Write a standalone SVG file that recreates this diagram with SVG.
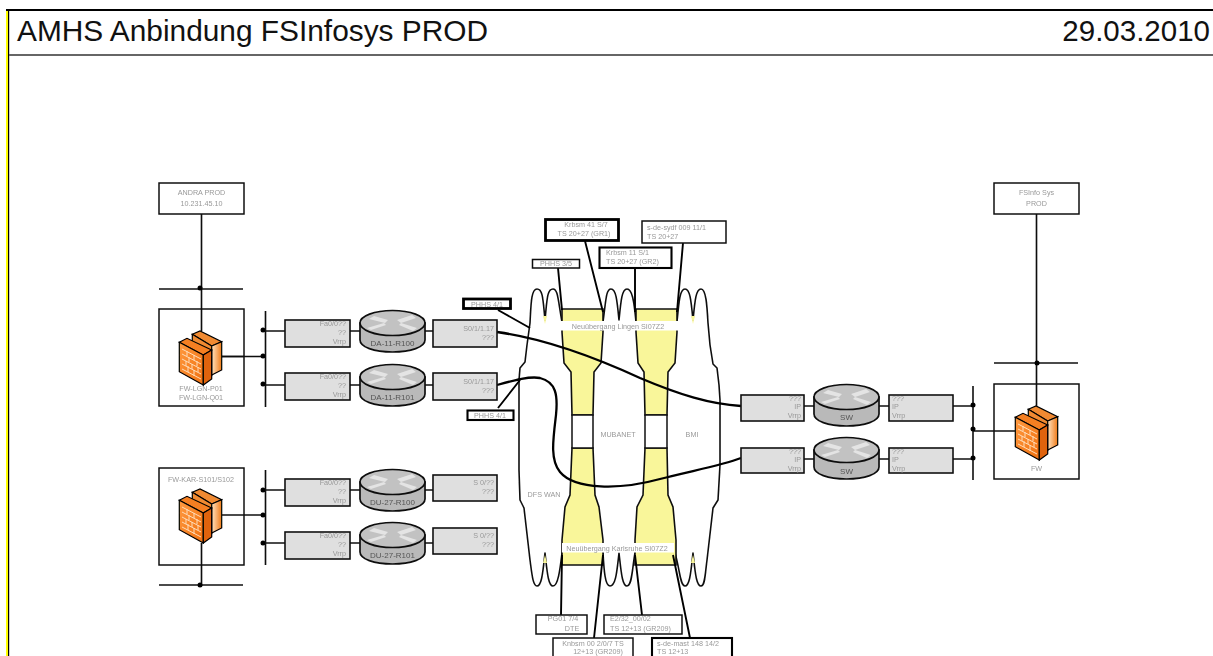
<svg xmlns="http://www.w3.org/2000/svg" xmlns:xlink="http://www.w3.org/1999/xlink" width="1213" height="656" viewBox="0 0 1213 656">
<style>
text{font-family:"Liberation Sans",Arial,sans-serif}
.t{font-size:7.2px;fill:#999}
.d{font-size:8px;fill:#555}
.m{text-anchor:middle}
.e{text-anchor:end}
.box{fill:#fff;stroke:#111;stroke-width:1.500}
.open{fill:none;stroke:#111;stroke-width:1.500}
.thick{fill:#fff;stroke:#000;stroke-width:2.800}
.mid{fill:#fff;stroke:#000;stroke-width:2.100}
.if{fill:#dfdfdf;stroke:#111;stroke-width:1.600}
.ln{fill:none;stroke:#111;stroke-width:1.600}
.call{fill:none;stroke:#000;stroke-width:1.900}
.cur{fill:none;stroke:#000;stroke-width:2.300}
.cl{fill:#fff;stroke:#111;stroke-width:1.600;stroke-linejoin:round}
.y{fill:#f9f69a;stroke:#111;stroke-width:1.600}
.band{fill:#fff;stroke:none}
</style>
<defs>
<filter id="soft" x="-2%" y="-2%" width="104%" height="104%"><feGaussianBlur stdDeviation="0.45"/></filter>
<linearGradient id="og" x1="0" y1="0" x2="1" y2="1"><stop offset="0" stop-color="#ff9a40"/><stop offset="1" stop-color="#f07010"/></linearGradient>
<linearGradient id="og2" x1="0" y1="0" x2="1" y2="0"><stop offset="0" stop-color="#ffe3c0"/><stop offset="1" stop-color="#f07a18"/></linearGradient>
<g id="router">
<path d="M0 13V30C0 37 14 42 32.500 42S65 37 65 30V13Z" fill="#b9b9b9" stroke="#111" stroke-width="1.700"/>
<ellipse cx="32.500" cy="13" rx="32.500" ry="12.500" fill="#c2c2c2" stroke="#111" stroke-width="1.700"/>
<path d="M14 6L28 10L25 13L9 9ZM37 10L52 5L56 8L41 13ZM26 15L11 20L7 18L24 13ZM39 15L53 21L57 18L41 13Z" fill="#e4e4e4"/>
</g>
<g id="fw">
<path d="M13.300 3.300L21 0L42.700 10.700L32.700 15Z" fill="#f08a30" stroke="#000" stroke-width="1.200"/>
<path d="M13.300 3.300L32.700 15V44L13.300 30Z" fill="#f08a30" stroke="#000" stroke-width="1.200"/>
<path d="M32.700 15L42.700 10.700V39L32.700 44Z" fill="url(#og2)" stroke="#000" stroke-width="1.200"/>
<path d="M0.300 11.300L8 7.300L32.700 19L24.300 24Z" fill="#f57f20" stroke="#000" stroke-width="1.200"/>
<path d="M0.300 11.300L24.300 24V54L0.300 40.700Z" fill="url(#og)" stroke="#000" stroke-width="1.200"/>
<path d="M24.300 24L32.700 19V48L24.300 54Z" fill="#e0640c" stroke="#000" stroke-width="1.200"/>
<path d="M3 18L22 28M3 23L22 33M3 28L22 38M3 33L22 43M3 38L22 48M8 20V25M15 24V29M10 26V31M18 30V35M7 30V35M13 33V38M19 36V41M9 35V41M15 39V45" fill="none" stroke="#ffdcb8" stroke-width="1"/>
</g>
<circle id="dot" r="2.500" fill="#000"/>
</defs>

<g id="frame">
<rect x="6" y="10" width="2" height="646" fill="#ffff00"/>
<rect x="8" y="10" width="1.200" height="646" fill="#000"/>
<rect x="6" y="9" width="1207" height="2" fill="#000"/>
<rect x="9" y="54" width="1204" height="2" fill="#666"/>
<text x="17" y="41" font-size="29.500" fill="#111" textLength="471" lengthAdjust="spacingAndGlyphs">AMHS Anbindung FSInfosys PROD</text>
<text x="1210" y="41" font-size="29.500" fill="#111" class="e">29.03.2010</text>
</g>

<g filter="url(#soft)">
<g id="clouds">
<path id="cloud-dfs" class="cl" d="M562 322C558 300 558 289 553 289C547 289 547 300 545 320C543 300 543 289 537 289C531 289 531 305 530 323L527 345L525 362L520 368L519 380V470L520 500L524 508L530 560C532 575 533 586 537 586C542 586 543 570 545 553C547 570 548 586 553 586C558 586 560 570 562 553L580 553V322Z"/>
<path id="cloud-mubanet" class="cl" d="M580 322H603C606 300 606 289 611 289C616 289 617 300 619 320C621 300 622 289 627 289C632 289 634 300 636 322H660V553H635C632 570 632 586 627 586C622 586 621 570 619 553C617 570 616 586 610 586C605 586 604 570 603 553H580Z"/>
<path id="cloud-bmi" class="cl" d="M660 322H677C679 300 680 289 685 289C690 289 691 300 693 320C695 300 696 289 701 289C706 289 707 305 708 323L710 345L713 364L717 368L719 385L720 400V465L718 500L713 508L707 560C705 575 705 586 701 586C696 586 695 570 693 553C691 570 690 586 685 586C680 586 680 570 675 553H660Z"/>
<path d="M543 316L547 316L545 324ZM691 316L695 316L693 324ZM543 563L547 563L545 555ZM691 563L695 563L693 555Z" fill="#f9f69a" stroke="none"/>
</g>
<g id="links-yellow">
<path class="y" d="M562 309H603V332L601 363L594 372L593 415H572L571 372L564 363L562 332Z"/>
<path class="y" d="M636 309H677V332L675 363L668 372L667 415H645L644 372L638 363L636 332Z"/>
<path class="y" d="M572 448H593L595 495L599 507L603 540V565H562V540L565 507L570 495Z"/>
<path class="y" d="M645 448H667L668 495L673 507L676 540V565H635V540L637 507L643 495Z"/>
<rect class="box" x="572" y="415" width="21" height="33"/>
<rect class="box" x="645" y="415" width="22" height="33"/>
<rect class="band" x="560" y="321" width="118" height="9.500"/>
<rect class="band" x="562" y="543" width="112" height="9.500"/>
</g>

<g id="connectors">
<path class="ln" d="M201.500 214V331M159 289H243M265.500 311V407M222 356.500H265M265 331H285M265 385H285M350 331H360M425 331H433M350 385H360M425 385H433"/>
<path class="ln" d="M201.500 543V585M159 585H243M265.500 470V565M222 515H265M265 490H285M265 543H285M350 490H360M425 490H433M350 543H360M425 543H433"/>
<path class="ln" d="M1036.500 214V406M994 363H1078M973 386V480M1015 431H973M953 406H973M953 459H973M804 406H814M878 406H889M804 459H814M878 459H889"/>
<path class="cur" d="M497 332C540 338 590 355 640 378C680 395 710 404 741 406"/>
<path class="cur" d="M497 385C515 380 530 376 540 378C556 382 558 395 556 415C553 440 550 460 560 472C575 490 620 490 660 479C690 471 720 466 741 458"/>
<path class="call" d="M498 310L530 328M498 408L520 380M558 268L562 310M585 241L603 312M635 268V312M683 243L677 312M562 555L561 615M635 555L642 615M603 555L594 638M673 555L690 638"/>
<use xlink:href="#dot" x="200" y="288"/><use xlink:href="#dot" x="263" y="330"/><use xlink:href="#dot" x="263" y="356"/><use xlink:href="#dot" x="263" y="384"/>
<use xlink:href="#dot" x="200" y="585"/><use xlink:href="#dot" x="263" y="490"/><use xlink:href="#dot" x="263" y="515"/><use xlink:href="#dot" x="263" y="543"/>
<use xlink:href="#dot" x="1037" y="363"/><use xlink:href="#dot" x="973" y="405"/><use xlink:href="#dot" x="973" y="429"/><use xlink:href="#dot" x="973" y="458"/>
</g>

<g id="andra"><rect class="box" x="159" y="183" width="85" height="31"/><text class="t m" x="201.500" y="195">ANDRA PROD</text><text class="t m" x="201.500" y="206">10.231.45.10</text></g>
<g id="fsinfo"><rect class="box" x="994" y="183" width="85" height="31"/><text class="t m" x="1036.500" y="195">FSInfo Sys</text><text class="t m" x="1036.500" y="206">PROD</text></g>

<g id="fw-lgn"><rect class="open" x="159" y="309" width="85" height="97"/><use xlink:href="#fw" x="179" y="331"/><path class="ln" d="M222 356.500H244"/><text class="t m" x="201" y="391">FW-LGN-P01</text><text class="t m" x="201" y="400">FW-LGN-Q01</text></g>
<g id="fw-kar"><rect class="open" x="159" y="468" width="85" height="97"/><use xlink:href="#fw" x="179" y="489"/><text class="t m" x="201" y="482">FW-KAR-S101/S102</text></g>
<g id="fw-r"><rect class="open" x="994" y="384" width="85" height="95"/><use xlink:href="#fw" x="1015" y="406"/><text class="t m" x="1036.500" y="471">FW</text></g>

<g id="r1"><use xlink:href="#router" x="360" y="310"/><text class="d m" x="392.500" y="346">DA-11-R100</text></g>
<g id="r2"><use xlink:href="#router" x="360" y="364"/><text class="d m" x="392.500" y="400">DA-11-R101</text></g>
<g id="r3"><use xlink:href="#router" x="360" y="469"/><text class="d m" x="392.500" y="505">DU-27-R100</text></g>
<g id="r4"><use xlink:href="#router" x="360" y="522"/><text class="d m" x="392.500" y="558">DU-27-R101</text></g>
<g id="r5"><use xlink:href="#router" x="814" y="384"/><text class="d m" x="846.500" y="420">SW</text></g>
<g id="r6"><use xlink:href="#router" x="814" y="437"/><text class="d m" x="846.500" y="474">SW</text></g>

<g id="if1"><rect class="if" x="285" y="320" width="65" height="27"/><text class="t e" x="346" y="326">Fa0/0??</text><text class="t e" x="346" y="335">??</text><text class="t e" x="346" y="344">Vrrp</text></g>
<g id="if2"><rect class="if" x="285" y="373" width="65" height="27"/><text class="t e" x="346" y="379">Fa0/0??</text><text class="t e" x="346" y="388">??</text><text class="t e" x="346" y="397">Vrrp</text></g>
<g id="if3"><rect class="if" x="285" y="479" width="65" height="27"/><text class="t e" x="346" y="485">Fa0/0??</text><text class="t e" x="346" y="494">??</text><text class="t e" x="346" y="503">Vrrp</text></g>
<g id="if4"><rect class="if" x="285" y="532" width="65" height="27"/><text class="t e" x="346" y="538">Fa0/0??</text><text class="t e" x="346" y="547">??</text><text class="t e" x="346" y="556">Vrrp</text></g>
<g id="if5"><rect class="if" x="433" y="320" width="64" height="27"/><text class="t e" x="494" y="331">S0/1/1.17</text><text class="t e" x="494" y="340">???</text></g>
<g id="if6"><rect class="if" x="433" y="373" width="64" height="27"/><text class="t e" x="494" y="384">S0/1/1.17</text><text class="t e" x="494" y="393">???</text></g>
<g id="if7"><rect class="if" x="433" y="475" width="64" height="26"/><text class="t e" x="494" y="485">S 0/??</text><text class="t e" x="494" y="494">???</text></g>
<g id="if8"><rect class="if" x="433" y="528" width="64" height="26"/><text class="t e" x="494" y="538">S 0/??</text><text class="t e" x="494" y="547">???</text></g>
<g id="if9"><rect class="if" x="741" y="395" width="63" height="26"/><text class="t e" x="801" y="401">???</text><text class="t e" x="801" y="409">IP</text><text class="t e" x="801" y="418">Vrrp</text></g>
<g id="if10"><rect class="if" x="741" y="448" width="63" height="25"/><text class="t e" x="801" y="454">???</text><text class="t e" x="801" y="462">IP</text><text class="t e" x="801" y="471">Vrrp</text></g>
<g id="if11"><rect class="if" x="889" y="395" width="64" height="26"/><text class="t" x="892" y="401">???</text><text class="t" x="892" y="409">IP</text><text class="t" x="892" y="418">Vrrp</text></g>
<g id="if12"><rect class="if" x="889" y="448" width="64" height="25"/><text class="t" x="892" y="454">???</text><text class="t" x="892" y="462">IP</text><text class="t" x="892" y="471">Vrrp</text></g>

<g id="c1"><rect class="thick" x="463.500" y="299" width="47" height="9.500"/><text class="t m" x="487" y="306.500">PHHS 4/1</text></g>
<g id="c2"><rect class="mid" x="467.500" y="410.500" width="46" height="9.500"/><text class="t m" x="490" y="418">PHHS 4/1</text></g>
<g id="c3"><rect class="box" x="532.500" y="259.500" width="47" height="8.500"/><text class="t m" x="556" y="266">PHHS 3/5</text></g>
<g id="c4"><rect class="thick" x="545.500" y="219.500" width="73" height="21"/><text class="t m" x="586" y="227">Krbsm 41 S/7</text><text class="t m" x="584" y="236">TS 20+27 (GR1)</text></g>
<g id="c5"><rect class="mid" x="599.500" y="247.500" width="72" height="20.500"/><text class="t" x="606" y="255">Krbsm 11 S/1</text><text class="t" x="606" y="264">TS 20+27 (GR2)</text></g>
<g id="c6"><rect class="box" x="642" y="221" width="84" height="22"/><text class="t" x="647" y="230">s-de-sydf 009 11/1</text><text class="t" x="647" y="239">TS 20+27</text></g>
<g id="c7"><rect class="box" x="536" y="615" width="51" height="19"/><text class="t m" x="563" y="621">PG01 7/4</text><text class="t m" x="572" y="631">DTE</text></g>
<g id="c8"><rect class="box" x="604" y="615" width="78" height="19"/><text class="t" x="610" y="621">E2/32_00/02</text><text class="t" x="610" y="631">TS 12+13 (GR209)</text></g>
<g id="c9"><rect class="box" x="553" y="638" width="80" height="20"/><text class="t m" x="593" y="646">Knbsm 00 2/0/7 TS</text><text class="t m" x="598" y="654">12+13 (GR209)</text></g>
<g id="c10"><rect class="mid" x="652" y="638" width="80" height="20"/><text class="t" x="657" y="646">s-de-mast 148 14/2</text><text class="t" x="657" y="654">TS 12+13</text></g>

<g id="labels">
<text class="t m" x="618" y="329">Neuübergang Lingen SI07Z2</text>
<text class="t m" x="617" y="550.500">Neuübergang Karlsruhe SI07Z2</text>
<text class="t m" x="618" y="437">MUBANET</text>
<text class="t m" x="692" y="437">BMI</text>
<text class="t m" x="544" y="497">DFS WAN</text>
</g>
</g>
</svg>
